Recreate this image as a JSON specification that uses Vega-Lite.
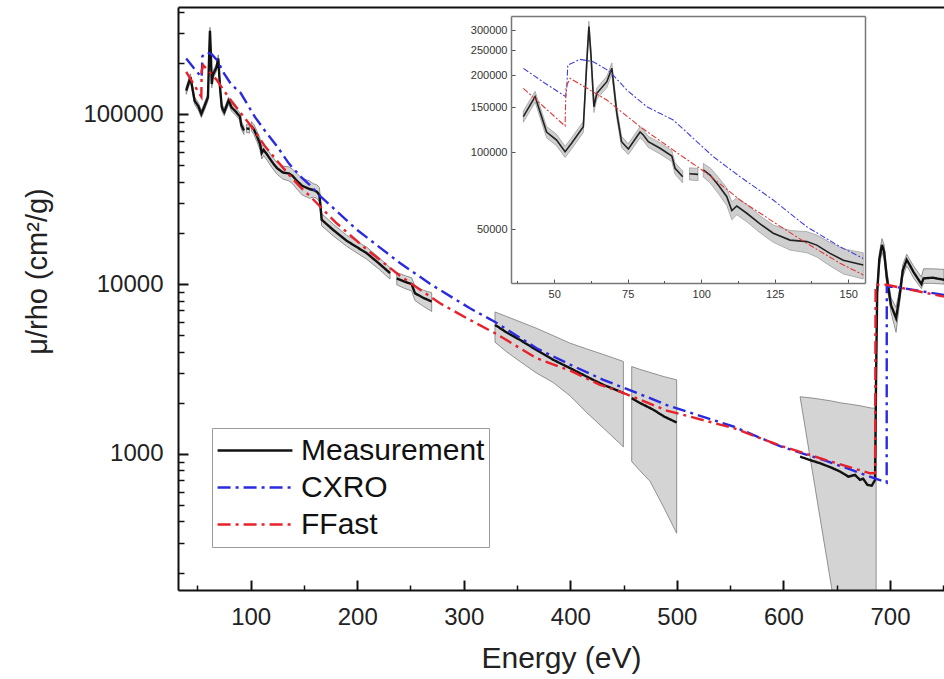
{
"$schema": "https://vega.github.io/schema/vega-lite/v6.json",
"width": 766, "height": 583,
"autosize": {"type": "none"},
"padding": {"left": 178, "top": 7, "right": 0, "bottom": 89},
"config": {
  "view": {"stroke": null},
  "font": "Liberation Sans",
  "axis": {"grid": false, "labelFont": "Liberation Sans", "titleFont": "Liberation Sans", "labelColor": "#222", "titleColor": "#222", "titleFontWeight": "normal", "domainColor": "#111", "tickColor": "#111", "labelFlush": false, "labelOverlap": false},
  "legend": {"labelFont": "Liberation Sans"}
},
"datasets": {
  "lines": [
    {"s":"Measurement","g":1,"x":39.5,"y":137800},{"s":"Measurement","g":1,"x":43.5,"y":165000},{"s":"Measurement","g":1,"x":47.4,"y":120000},{"s":"Measurement","g":1,"x":50.8,"y":111700},{"s":"Measurement","g":1,"x":53.7,"y":100500},{"s":"Measurement","g":1,"x":55.9,"y":108400},{"s":"Measurement","g":1,"x":59.9,"y":125900},{"s":"Measurement","g":1,"x":61.3,"y":250000},{"s":"Measurement","g":1,"x":61.8,"y":310000},{"s":"Measurement","g":1,"x":62.5,"y":240000},{"s":"Measurement","g":1,"x":63.5,"y":150600},{"s":"Measurement","g":1,"x":64.5,"y":170000},{"s":"Measurement","g":1,"x":67.9,"y":188700},{"s":"Measurement","g":1,"x":69.6,"y":212800},{"s":"Measurement","g":1,"x":70.3,"y":180000},{"s":"Measurement","g":1,"x":71.3,"y":142000},{"s":"Measurement","g":1,"x":72.9,"y":110000},{"s":"Measurement","g":1,"x":75.2,"y":103000},{"s":"Measurement","g":1,"x":79.2,"y":120000},{"s":"Measurement","g":1,"x":80.3,"y":116800},{"s":"Measurement","g":1,"x":82.0,"y":110000},{"s":"Measurement","g":1,"x":86.0,"y":103700},{"s":"Measurement","g":1,"x":90.0,"y":96700},{"s":"Measurement","g":1,"x":91.1,"y":86600},{"s":"Measurement","g":1,"x":93.7,"y":80300},
    {"s":"Measurement","g":2,"x":96.0,"y":82500},{"s":"Measurement","g":2,"x":98.9,"y":82000},
    {"s":"Measurement","g":3,"x":100.7,"y":85300},{"s":"Measurement","g":3,"x":103,"y":81500},{"s":"Measurement","g":3,"x":105.8,"y":74500},{"s":"Measurement","g":3,"x":108.7,"y":67100},{"s":"Measurement","g":3,"x":110.4,"y":59200},{"s":"Measurement","g":3,"x":112.1,"y":61700},{"s":"Measurement","g":3,"x":115.5,"y":57800},{"s":"Measurement","g":3,"x":120,"y":52500},{"s":"Measurement","g":3,"x":124.5,"y":48300},{"s":"Measurement","g":3,"x":130.2,"y":45400},{"s":"Measurement","g":3,"x":135.9,"y":44800},{"s":"Measurement","g":3,"x":139.3,"y":43400},{"s":"Measurement","g":3,"x":143.8,"y":40300},{"s":"Measurement","g":3,"x":148.3,"y":37900},{"s":"Measurement","g":3,"x":155.1,"y":36300},{"s":"Measurement","g":3,"x":158.8,"y":35800},{"s":"Measurement","g":3,"x":162,"y":35000},{"s":"Measurement","g":3,"x":164.5,"y":33500},{"s":"Measurement","g":3,"x":166.7,"y":23900},{"s":"Measurement","g":3,"x":177.6,"y":20800},{"s":"Measurement","g":3,"x":190,"y":18000},{"s":"Measurement","g":3,"x":208.9,"y":15200},{"s":"Measurement","g":3,"x":220,"y":13300},{"s":"Measurement","g":3,"x":230.8,"y":11600},
    {"s":"Measurement","g":4,"x":237.1,"y":10800},{"s":"Measurement","g":4,"x":245,"y":10300},{"s":"Measurement","g":4,"x":251.1,"y":10000},{"s":"Measurement","g":4,"x":254.2,"y":8830},{"s":"Measurement","g":4,"x":262,"y":8300},{"s":"Measurement","g":4,"x":269.9,"y":7890},
    {"s":"Measurement","g":5,"x":329.3,"y":5750},{"s":"Measurement","g":5,"x":340,"y":5200},{"s":"Measurement","g":5,"x":352.8,"y":4690},{"s":"Measurement","g":5,"x":368,"y":4100},{"s":"Measurement","g":5,"x":384,"y":3580},{"s":"Measurement","g":5,"x":399.7,"y":3200},{"s":"Measurement","g":5,"x":415.4,"y":2850},{"s":"Measurement","g":5,"x":431,"y":2550},{"s":"Measurement","g":5,"x":446.6,"y":2330},{"s":"Measurement","g":5,"x":449.8,"y":2280},
    {"s":"Measurement","g":6,"x":457.6,"y":2130},{"s":"Measurement","g":6,"x":465,"y":2000},{"s":"Measurement","g":6,"x":477.9,"y":1820},{"s":"Measurement","g":6,"x":488,"y":1660},{"s":"Measurement","g":6,"x":499.8,"y":1530},
    {"s":"Measurement","g":7,"x":615.6,"y":964},{"s":"Measurement","g":7,"x":625,"y":920},{"s":"Measurement","g":7,"x":634.4,"y":881},{"s":"Measurement","g":7,"x":645,"y":830},{"s":"Measurement","g":7,"x":653.2,"y":787},{"s":"Measurement","g":7,"x":660.9,"y":735},{"s":"Measurement","g":7,"x":667.2,"y":752},{"s":"Measurement","g":7,"x":671.9,"y":703},{"s":"Measurement","g":7,"x":674.8,"y":715},{"s":"Measurement","g":7,"x":678.8,"y":657},{"s":"Measurement","g":7,"x":682.9,"y":650},{"s":"Measurement","g":7,"x":686,"y":703},{"s":"Measurement","g":7,"x":687,"y":3000},{"s":"Measurement","g":7,"x":688,"y":9000},{"s":"Measurement","g":7,"x":690,"y":14000},{"s":"Measurement","g":7,"x":692.5,"y":17000},{"s":"Measurement","g":7,"x":694.5,"y":15500},{"s":"Measurement","g":7,"x":697,"y":11000},{"s":"Measurement","g":7,"x":701,"y":7500},{"s":"Measurement","g":7,"x":705.7,"y":6300},{"s":"Measurement","g":7,"x":709,"y":8500},{"s":"Measurement","g":7,"x":712,"y":12000},{"s":"Measurement","g":7,"x":715.7,"y":13900},{"s":"Measurement","g":7,"x":719,"y":12800},{"s":"Measurement","g":7,"x":722,"y":11800},{"s":"Measurement","g":7,"x":729.5,"y":10000},{"s":"Measurement","g":7,"x":731.5,"y":10800},{"s":"Measurement","g":7,"x":740,"y":10900},{"s":"Measurement","g":7,"x":750.7,"y":10600},
    {"s":"CXRO","g":10,"x":39.5,"y":212800},{"s":"CXRO","g":10,"x":46.6,"y":187000},{"s":"CXRO","g":10,"x":53.9,"y":165000},{"s":"CXRO","g":10,"x":54.3,"y":180000},{"s":"CXRO","g":10,"x":54.6,"y":219000},{"s":"CXRO","g":10,"x":58.8,"y":230700},{"s":"CXRO","g":10,"x":63.3,"y":225800},{"s":"CXRO","g":10,"x":69,"y":206500},{"s":"CXRO","g":10,"x":74.7,"y":175000},{"s":"CXRO","g":10,"x":81.5,"y":150600},{"s":"CXRO","g":10,"x":90.5,"y":133700},{"s":"CXRO","g":10,"x":97.3,"y":113400},{"s":"CXRO","g":10,"x":104.1,"y":96100},{"s":"CXRO","g":10,"x":113.2,"y":80300},{"s":"CXRO","g":10,"x":124.5,"y":65100},{"s":"CXRO","g":10,"x":135.9,"y":51200},{"s":"CXRO","g":10,"x":147.2,"y":42800},{"s":"CXRO","g":10,"x":155.1,"y":38500},{"s":"CXRO","g":10,"x":165,"y":33100},{"s":"CXRO","g":10,"x":200,"y":20800},{"s":"CXRO","g":10,"x":240.1,"y":13300},{"s":"CXRO","g":10,"x":270,"y":9880},{"s":"CXRO","g":10,"x":305.8,"y":7200},{"s":"CXRO","g":10,"x":329,"y":6000},{"s":"CXRO","g":10,"x":368.4,"y":4190},{"s":"CXRO","g":10,"x":400,"y":3350},{"s":"CXRO","g":10,"x":431,"y":2730},{"s":"CXRO","g":10,"x":474.8,"y":2130},{"s":"CXRO","g":10,"x":490.5,"y":1940},{"s":"CXRO","g":10,"x":553,"y":1450},{"s":"CXRO","g":10,"x":596.8,"y":1110},{"s":"CXRO","g":10,"x":640,"y":910},{"s":"CXRO","g":10,"x":670,"y":780},{"s":"CXRO","g":10,"x":696.9,"y":677},{"s":"CXRO","g":10,"x":697.0,"y":9680},{"s":"CXRO","g":10,"x":706,"y":9600},{"s":"CXRO","g":10,"x":750.7,"y":8630},
    {"s":"FFast","g":20,"x":39.5,"y":177800},{"s":"FFast","g":20,"x":46.6,"y":150000},{"s":"FFast","g":20,"x":53.7,"y":126700},{"s":"FFast","g":20,"x":54.0,"y":180000},{"s":"FFast","g":20,"x":55.4,"y":194500},{"s":"FFast","g":20,"x":67.9,"y":160000},{"s":"FFast","g":20,"x":79.2,"y":125900},{"s":"FFast","g":20,"x":90.5,"y":102000},{"s":"FFast","g":20,"x":101.9,"y":82800},{"s":"FFast","g":20,"x":113.2,"y":65100},{"s":"FFast","g":20,"x":124.5,"y":53500},{"s":"FFast","g":20,"x":135.9,"y":44100},{"s":"FFast","g":20,"x":147.2,"y":36900},{"s":"FFast","g":20,"x":155.1,"y":33200},{"s":"FFast","g":20,"x":180,"y":23000},{"s":"FFast","g":20,"x":208.9,"y":16000},{"s":"FFast","g":20,"x":240,"y":11200},{"s":"FFast","g":20,"x":277.7,"y":7700},{"s":"FFast","g":20,"x":305.8,"y":6150},{"s":"FFast","g":20,"x":329,"y":5150},{"s":"FFast","g":20,"x":368.4,"y":3660},{"s":"FFast","g":20,"x":400,"y":3090},{"s":"FFast","g":20,"x":427.9,"y":2550},{"s":"FFast","g":20,"x":446.6,"y":2330},{"s":"FFast","g":20,"x":490.5,"y":1800},{"s":"FFast","g":20,"x":553,"y":1420},{"s":"FFast","g":20,"x":596.8,"y":1120},{"s":"FFast","g":20,"x":640,"y":920},{"s":"FFast","g":20,"x":681.3,"y":769},{"s":"FFast","g":20,"x":686.0,"y":770},{"s":"FFast","g":20,"x":686.5,"y":9900},{"s":"FFast","g":20,"x":697,"y":9900},{"s":"FFast","g":20,"x":750.7,"y":8430}
  ],
  "band": [
    {"g":1,"x":39.5,"lo":131000,"hi":145000},{"g":1,"x":43.5,"lo":157000,"hi":173000},{"g":1,"x":47.4,"lo":114000,"hi":126000},{"g":1,"x":50.8,"lo":106000,"hi":117500},{"g":1,"x":53.7,"lo":95500,"hi":105500},{"g":1,"x":55.9,"lo":103000,"hi":114000},{"g":1,"x":59.9,"lo":119500,"hi":132000},{"g":1,"x":61.3,"lo":237000,"hi":262000},{"g":1,"x":61.8,"lo":295000,"hi":325000},{"g":1,"x":62.5,"lo":228000,"hi":252000},{"g":1,"x":63.5,"lo":143000,"hi":158000},{"g":1,"x":64.5,"lo":161500,"hi":178500},{"g":1,"x":67.9,"lo":179000,"hi":198000},{"g":1,"x":69.6,"lo":202000,"hi":223500},{"g":1,"x":70.3,"lo":171000,"hi":189000},{"g":1,"x":71.3,"lo":135000,"hi":149000},{"g":1,"x":72.9,"lo":104500,"hi":115500},{"g":1,"x":75.2,"lo":98000,"hi":108000},{"g":1,"x":79.2,"lo":114000,"hi":126000},{"g":1,"x":80.3,"lo":111000,"hi":122500},{"g":1,"x":82.0,"lo":104500,"hi":115500},{"g":1,"x":86.0,"lo":98500,"hi":109000},{"g":1,"x":90.0,"lo":92000,"hi":101500},{"g":1,"x":91.1,"lo":82000,"hi":91000},{"g":1,"x":93.7,"lo":76000,"hi":84500},
    {"g":2,"x":96.0,"lo":78000,"hi":87000},{"g":2,"x":98.9,"lo":77500,"hi":86500},
    {"g":3,"x":100.7,"lo":80000,"hi":90500},{"g":3,"x":103,"lo":76000,"hi":87000},{"g":3,"x":105.8,"lo":69000,"hi":80000},{"g":3,"x":108.7,"lo":62000,"hi":72500},{"g":3,"x":110.4,"lo":54500,"hi":64000},{"g":3,"x":112.1,"lo":57000,"hi":66500},{"g":3,"x":115.5,"lo":53500,"hi":62500},{"g":3,"x":120,"lo":48500,"hi":56500},{"g":3,"x":124.5,"lo":44500,"hi":52000},{"g":3,"x":130.2,"lo":41500,"hi":49500},{"g":3,"x":135.9,"lo":40500,"hi":49000},{"g":3,"x":139.3,"lo":39000,"hi":47500},{"g":3,"x":143.8,"lo":36000,"hi":44500},{"g":3,"x":148.3,"lo":33500,"hi":42000},{"g":3,"x":155.1,"lo":32000,"hi":40500},{"g":3,"x":158.8,"lo":32500,"hi":39000},{"g":3,"x":162,"lo":32000,"hi":38500},{"g":3,"x":164.5,"lo":30500,"hi":37000},{"g":3,"x":166.7,"lo":22000,"hi":26000},{"g":3,"x":177.6,"lo":19200,"hi":22500},{"g":3,"x":190,"lo":16700,"hi":19400},{"g":3,"x":208.9,"lo":14000,"hi":16500},{"g":3,"x":220,"lo":12300,"hi":14400},{"g":3,"x":230.8,"lo":10700,"hi":12500},
    {"g":4,"x":237.1,"lo":9900,"hi":11700},{"g":4,"x":245,"lo":9400,"hi":11200},{"g":4,"x":251.1,"lo":9100,"hi":10900},{"g":4,"x":254.2,"lo":8000,"hi":9700},{"g":4,"x":262,"lo":7400,"hi":9200},{"g":4,"x":269.9,"lo":6900,"hi":8900},
    {"g":5,"x":329.3,"lo":4550,"hi":6850},{"g":5,"x":340,"lo":4000,"hi":6450},{"g":5,"x":352.8,"lo":3500,"hi":6000},{"g":5,"x":368,"lo":3000,"hi":5500},{"g":5,"x":384,"lo":2630,"hi":4970},{"g":5,"x":399.7,"lo":2200,"hi":4490},{"g":5,"x":415.4,"lo":1750,"hi":4150},{"g":5,"x":431,"lo":1420,"hi":3850},{"g":5,"x":446.6,"lo":1150,"hi":3560},{"g":5,"x":449.8,"lo":1100,"hi":3500},
    {"g":6,"x":457.6,"lo":901,"hi":3270},{"g":6,"x":465,"lo":800,"hi":3150},{"g":6,"x":474.8,"lo":690,"hi":3020},{"g":6,"x":488,"lo":480,"hi":2850},{"g":6,"x":499.8,"lo":341,"hi":2730},
    {"g":7,"x":615.6,"lo":2170,"hi":2170},{"g":7,"x":625,"lo":955,"hi":2140},{"g":7,"x":634.4,"lo":420,"hi":2100},{"g":7,"x":645,"lo":166,"hi":2050},{"g":7,"x":653.2,"lo":80,"hi":2000},{"g":7,"x":660.9,"lo":60,"hi":1970},{"g":7,"x":671.9,"lo":60,"hi":1920},{"g":7,"x":682.9,"lo":60,"hi":1860},{"g":7,"x":687,"lo":60,"hi":1860},
    {"g":8,"x":688,"lo":8200,"hi":9800},{"g":8,"x":690,"lo":12800,"hi":15200},{"g":8,"x":692.5,"lo":15500,"hi":18500},{"g":8,"x":694.5,"lo":14000,"hi":17000},{"g":8,"x":697,"lo":9900,"hi":12100},{"g":8,"x":701,"lo":6800,"hi":8300},{"g":8,"x":705.7,"lo":5200,"hi":7300},{"g":8,"x":709,"lo":7700,"hi":9300},{"g":8,"x":712,"lo":11000,"hi":13000},{"g":8,"x":715.7,"lo":12800,"hi":15000},{"g":8,"x":719,"lo":11800,"hi":13800},{"g":8,"x":722,"lo":10900,"hi":12800},{"g":8,"x":729.5,"lo":9400,"hi":11000},{"g":8,"x":731.5,"lo":10100,"hi":12300},{"g":8,"x":740,"lo":10100,"hi":12300},{"g":8,"x":750.7,"lo":10000,"hi":12200}
  ]
},
"layer": [
  {
    "layer": [
      {
        "data": {"name": "band"},
        "mark": {"type": "area", "fill": "#d4d4d4", "stroke": "#7a7a7a", "strokeWidth": 0.8, "clip": true},
        "encoding": {
          "x": {"field": "x", "type": "quantitative", "scale": {"type": "linear", "domain": [31.8, 750.7], "nice": false, "zero": false},
                "axis": {"orient": "bottom", "values": [50,150,250,350,450,550,650,750], "tickSize": -5, "tickWidth": 1.5, "labels": false, "domain": false, "title": null, "zindex": 2}},
          "y": {"field": "lo", "type": "quantitative", "scale": {"type": "log", "domain": [158, 428000], "nice": false},
                "axis": {"orient": "left", "values": [200,300,400,500,600,700,800,900,2000,3000,4000,5000,6000,7000,8000,9000,20000,30000,40000,50000,60000,70000,80000,90000,200000,300000,400000], "tickSize": -6, "tickWidth": 1.5, "labels": false, "domain": false, "title": null, "zindex": 2}},
          "y2": {"field": "hi"},
          "detail": {"field": "g", "type": "nominal"}
        }
      },
      {
        "data": {"name": "lines"},
        "mark": {"type": "line", "strokeWidth": 2.4, "clip": true},
        "encoding": {
          "x": {"field": "x", "type": "quantitative", "scale": {"type": "linear", "domain": [31.8, 750.7], "nice": false, "zero": false},
                "axis": {"orient": "bottom", "values": [100,200,300,400,500,600,700], "tickSize": -10, "tickWidth": 2, "labelPadding": 25, "labelFontSize": 24, "domainWidth": 2, "title": "Energy (eV)", "titleFontSize": 30, "titlePadding": 14, "zindex": 2}},
          "y": {"field": "y", "type": "quantitative", "scale": {"type": "log", "domain": [158, 428000], "nice": false},
                "axis": {"orient": "left", "values": [1000,10000,100000], "format": "d", "tickSize": -10, "tickWidth": 2, "labelPadding": 25, "labelFontSize": 24, "domainWidth": 2, "title": "μ/rho (cm²/g)", "titleFontSize": 29, "titlePadding": 30, "titleY": 264, "zindex": 2}},
          "color": {"field": "s", "type": "nominal", "scale": {"domain": ["Measurement","CXRO","FFast"], "range": ["#111111","#2a2ae0","#e8202a"]},
                    "legend": {"title": null, "orient": "none", "legendX": 34, "legendY": 421, "labelFontSize": 30, "labelLimit": 400, "labelColor": "#111", "symbolType": "stroke", "symbolSize": 5600, "symbolStrokeWidth": 2.5, "strokeColor": "#999", "fillColor": "white", "padding": 4, "clipHeight": 37, "rowPadding": 0, "labelOffset": 7}},
          "strokeDash": {"field": "s", "type": "nominal", "scale": {"domain": ["Measurement","CXRO","FFast"], "range": [[1,0],[13,5,3,5],[13,5,3,5]]},
                    "legend": {"title": null, "orient": "none", "legendX": 34, "legendY": 421, "labelFontSize": 30, "labelLimit": 400, "labelColor": "#111", "symbolType": "stroke", "symbolSize": 5600, "symbolStrokeWidth": 2.5, "strokeColor": "#999", "fillColor": "white", "padding": 4, "clipHeight": 37, "rowPadding": 0, "labelOffset": 7}},
          "detail": {"field": "g", "type": "nominal"}
        }
      },
      {
        "data": {"name": "band"},
        "mark": {"type": "point", "opacity": 0},
        "encoding": {
          "x": {"field": "x", "type": "quantitative", "scale": {"type": "linear", "domain": [31.8, 750.7], "nice": false, "zero": false},
                "axis": {"orient": "top", "ticks": false, "labels": false, "domainWidth": 2, "title": null, "zindex": 2}},
          "y": {"field": "hi", "type": "quantitative", "scale": {"type": "log", "domain": [158, 428000], "nice": false}, "axis": null}
        }
      }
    ],
    "resolve": {"axis": {"x": "independent", "y": "independent"}}
  },
  {
    "layer": [
      {
        "data": {"name": "band"},
        "transform": [{"filter": "datum.x >= 35 && datum.x <= 156"}],
        "mark": {"type": "area", "fill": "#cfcfcf", "stroke": "#8a8a8a", "strokeWidth": 0.6},
        "encoding": {
          "x": {"field": "x", "type": "quantitative", "scale": {"type": "linear", "domain": [35.3, 155.7], "nice": false, "zero": false, "range": [333, 687]},
                "axis": {"orient": "bottom", "offset": -307, "values": [50,75,100,125,150], "tickSize": -4, "tickColor": "#555", "labelPadding": 9, "labelFontSize": 11, "labelColor": "#333", "domainColor": "#777", "domainWidth": 1.5, "title": null, "zindex": 2}},
          "y": {"field": "lo", "type": "quantitative", "scale": {"type": "log", "domain": [30870, 340700], "nice": false, "range": [276, 9]},
                "axis": {"orient": "left", "offset": -333, "values": [50000,100000,150000,200000,250000,300000], "format": "d", "tickSize": -4, "tickColor": "#555", "labelPadding": 8, "labelFontSize": 11, "labelColor": "#333", "domainColor": "#777", "domainWidth": 1.5, "title": null, "zindex": 2}},
          "y2": {"field": "hi"},
          "detail": {"field": "g", "type": "nominal"}
        }
      },
      {
        "data": {"name": "lines"},
        "transform": [{"filter": "datum.s == 'Measurement' && datum.x >= 35 && datum.x <= 156"}],
        "mark": {"type": "line", "color": "#222", "strokeWidth": 1.6},
        "encoding": {
          "x": {"field": "x", "type": "quantitative", "scale": {"type": "linear", "domain": [35.3, 155.7], "nice": false, "zero": false, "range": [333, 687]},
                "axis": {"orient": "bottom", "offset": -307, "values": [37.5,62.5,87.5,112.5,137.5], "tickSize": -2.5, "tickColor": "#555", "labels": false, "domain": false, "title": null, "zindex": 2}},
          "y": {"field": "y", "type": "quantitative", "scale": {"type": "log", "domain": [30870, 340700], "nice": false, "range": [276, 9]},
                "axis": {"orient": "right", "offset": -79, "ticks": false, "labels": false, "domainColor": "#777", "domainWidth": 1.5, "title": null, "zindex": 2}},
          "detail": {"field": "g", "type": "nominal"}
        }
      },
      {
        "data": {"name": "lines"},
        "transform": [{"filter": "datum.s == 'CXRO' && datum.x >= 35 && datum.x <= 156"}],
        "mark": {"type": "line", "color": "#4040dd", "strokeWidth": 1.1, "strokeDash": [6,2,2,2]},
        "encoding": {
          "x": {"field": "x", "type": "quantitative", "scale": {"type": "linear", "domain": [35.3, 155.7], "nice": false, "zero": false, "range": [333, 687]},
                "axis": {"orient": "top", "offset": -9, "ticks": false, "labels": false, "domainColor": "#777", "domainWidth": 1.5, "title": null, "zindex": 2}},
          "y": {"field": "y", "type": "quantitative", "scale": {"type": "log", "domain": [30870, 340700], "nice": false, "range": [276, 9]}, "axis": null}
        }
      },
      {
        "data": {"name": "lines"},
        "transform": [{"filter": "datum.s == 'FFast' && datum.x >= 35 && datum.x <= 156"}],
        "mark": {"type": "line", "color": "#e03535", "strokeWidth": 1.1, "strokeDash": [6,2,2,2]},
        "encoding": {
          "x": {"field": "x", "type": "quantitative", "scale": {"type": "linear", "domain": [35.3, 155.7], "nice": false, "zero": false, "range": [333, 687]}, "axis": null},
          "y": {"field": "y", "type": "quantitative", "scale": {"type": "log", "domain": [30870, 340700], "nice": false, "range": [276, 9]}, "axis": null}
        }
      }
    ],
    "resolve": {"axis": {"x": "independent", "y": "independent"}}
  }
],
"resolve": {"scale": {"x": "independent", "y": "independent"}, "axis": {"x": "independent", "y": "independent"}}
}
